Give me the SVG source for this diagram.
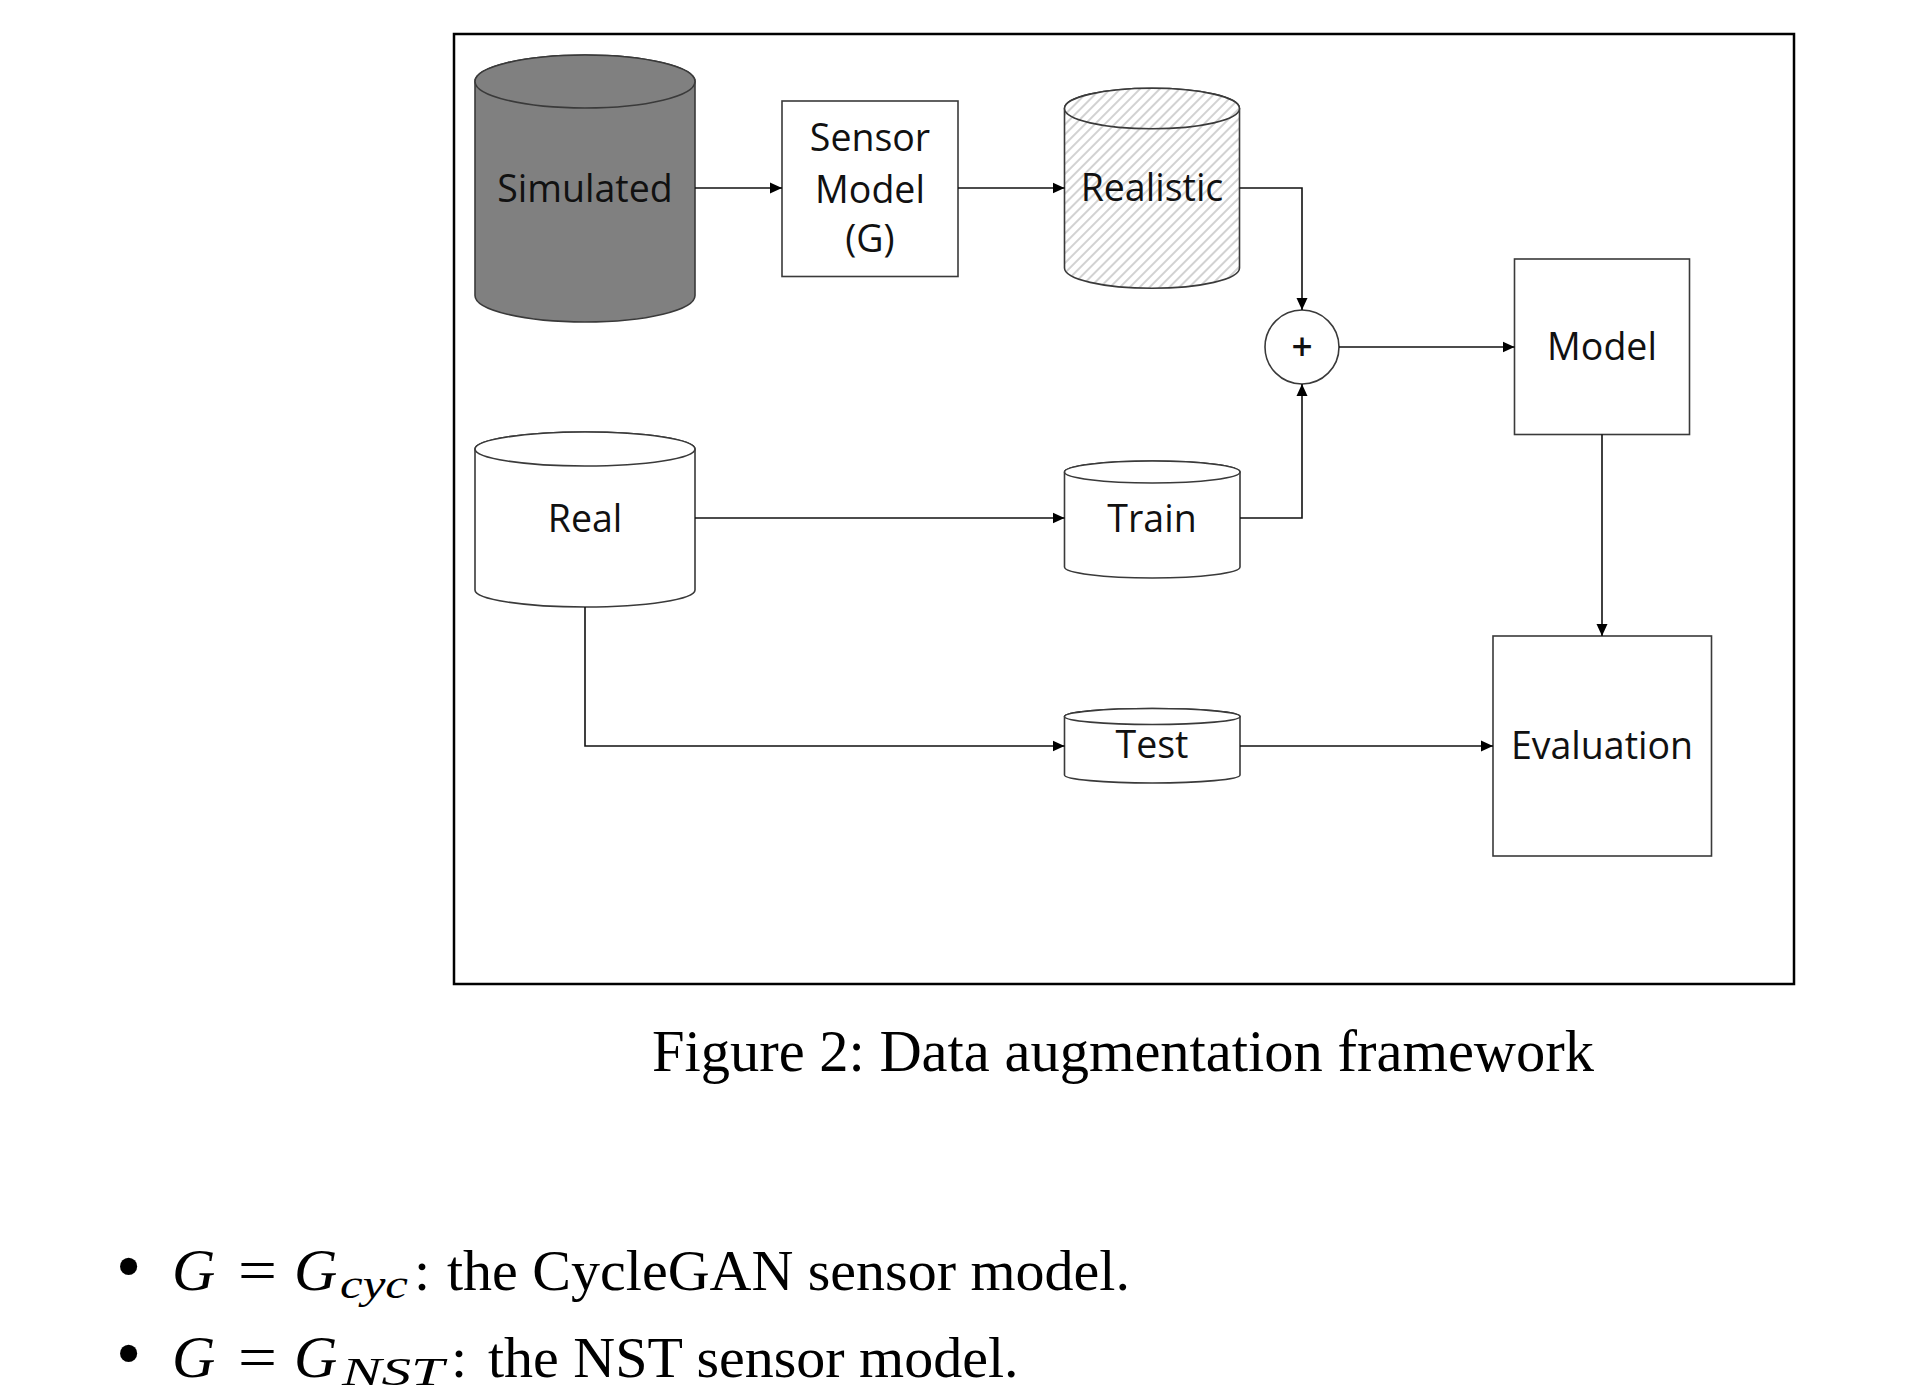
<svg xmlns="http://www.w3.org/2000/svg" width="1914" height="1400" viewBox="0 0 1914 1400">
<style>
.node{stroke:#3a3a3a;stroke-width:1.6;fill:#fff}
.lbl{font-family:"Open Sans","Noto Sans",sans-serif;font-size:37.5px;fill:#111;text-anchor:middle}
.conn{stroke:#111;stroke-width:1.6;fill:none}
.serif{font-family:"Liberation Serif","Times New Roman",serif;fill:#000}
</style>
<defs>
<marker id="arr" markerUnits="userSpaceOnUse" markerWidth="12" markerHeight="12" viewBox="0 0 12 12" refX="12" refY="6" orient="auto">
<path d="M0,0.5 L12,6 L0,11.5 Z" fill="#000"/>
</marker>
<pattern id="hatch" patternUnits="userSpaceOnUse" width="7" height="7" patternTransform="rotate(45)">
<rect width="7" height="7" fill="#fff"/>
<line x1="1" y1="0" x2="1" y2="7" stroke="#d2d2d2" stroke-width="2"/>
</pattern>
</defs>
<rect width="1914" height="1400" fill="#fff"/>
<rect id="frame" x="454" y="34" width="1340" height="950" fill="none" stroke="#000" stroke-width="2.5"/>

<g id="simulated">
<path class="node" style="fill:#808080" d="M475,81.5 L475,295.5 A110,26.5 0 0 0 695,295.5 L695,81.5 A110,26.5 0 0 0 475,81.5 Z"/>
<ellipse class="node" style="fill:#808080" cx="585" cy="81.5" rx="110" ry="26.5"/>
<text class="lbl" x="585" y="201.5">Simulated</text>
</g>

<g id="sensor">
<rect class="node" x="782" y="101" width="176" height="175.5"/>
<text class="lbl" x="870" y="151">Sensor</text>
<text class="lbl" x="870" y="203">Model</text>
<text class="lbl" x="870" y="252">(G)</text>
</g>

<g id="realistic">
<path class="node" style="fill:url(#hatch)" d="M1064.5,108.5 L1064.5,268 A87.5,20.3 0 0 0 1239.5,268 L1239.5,108.5 A87.5,20.3 0 0 0 1064.5,108.5 Z"/>
<ellipse class="node" style="fill:url(#hatch)" cx="1152" cy="108.5" rx="87.5" ry="20.3"/>
<text class="lbl" x="1152" y="201">Realistic</text>
</g>

<g id="plus">
<circle class="node" cx="1302" cy="347" r="37"/>
<text class="lbl" x="1302" y="360" style="font-size:37px;font-weight:600">+</text>
</g>

<g id="model">
<rect class="node" x="1514.5" y="259" width="175" height="175.5"/>
<text class="lbl" x="1602" y="360">Model</text>
</g>

<g id="real">
<path class="node" d="M475,449 L475,590 A110,17 0 0 0 695,590 L695,449 A110,17 0 0 0 475,449 Z"/>
<ellipse class="node" cx="585" cy="449" rx="110" ry="17"/>
<text class="lbl" x="585" y="531.5">Real</text>
</g>

<g id="train">
<path class="node" d="M1064.5,472 L1064.5,567 A87.75,11 0 0 0 1240,567 L1240,472 A87.75,11 0 0 0 1064.5,472 Z"/>
<ellipse class="node" cx="1152.25" cy="472" rx="87.75" ry="11"/>
<text class="lbl" x="1152" y="531.5">Train</text>
</g>

<g id="test">
<path class="node" d="M1064.5,716.5 L1064.5,775 A87.75,8 0 0 0 1240,775 L1240,716.5 A87.75,8 0 0 0 1064.5,716.5 Z"/>
<ellipse class="node" cx="1152.25" cy="716.5" rx="87.75" ry="8"/>
<text class="lbl" x="1152" y="758">Test</text>
</g>

<g id="evaluation">
<rect class="node" x="1493" y="636" width="218.5" height="220"/>
<text class="lbl" x="1602" y="759">Evaluation</text>
</g>

<g id="connectors">
<path class="conn" marker-end="url(#arr)" d="M695,188 H782"/>
<path class="conn" marker-end="url(#arr)" d="M958,188 H1064.5"/>
<path class="conn" marker-end="url(#arr)" d="M1239.5,188 H1302 V310"/>
<path class="conn" marker-end="url(#arr)" d="M1240,518 H1302 V384"/>
<path class="conn" marker-end="url(#arr)" d="M1339,347 H1514.5"/>
<path class="conn" marker-end="url(#arr)" d="M695,518 H1064.5"/>
<path class="conn" marker-end="url(#arr)" d="M585,607 V746 H1064.5"/>
<path class="conn" marker-end="url(#arr)" d="M1240,746 H1493"/>
<path class="conn" marker-end="url(#arr)" d="M1602,434.5 V636"/>
</g>

<text class="serif" x="1123" y="1071" font-size="58.5" text-anchor="middle">Figure 2: Data augmentation framework</text>

<g id="bullets" class="serif">
<text x="116" y="1290" font-size="72">•</text>
<text x="172" y="1290" font-size="60" font-style="italic">G</text>
<text x="238" y="1290" font-size="60" textLength="39" lengthAdjust="spacingAndGlyphs">=</text>
<text x="294" y="1290" font-size="60" font-style="italic">G</text>
<text x="340" y="1298" font-size="40" font-style="italic" textLength="68" lengthAdjust="spacingAndGlyphs">cyc</text>
<text x="414" y="1290" font-size="58">:</text>
<text x="447" y="1290" font-size="58">the CycleGAN sensor model.</text>

<text x="116" y="1377" font-size="72">•</text>
<text x="172" y="1377" font-size="60" font-style="italic">G</text>
<text x="238" y="1377" font-size="60" textLength="39" lengthAdjust="spacingAndGlyphs">=</text>
<text x="294" y="1377" font-size="60" font-style="italic">G</text>
<text x="342" y="1385" font-size="40" font-style="italic" textLength="102" lengthAdjust="spacingAndGlyphs">NST</text>
<text x="451" y="1377" font-size="58">:</text>
<text x="488" y="1377" font-size="58">the NST sensor model.</text>
</g>
</svg>
